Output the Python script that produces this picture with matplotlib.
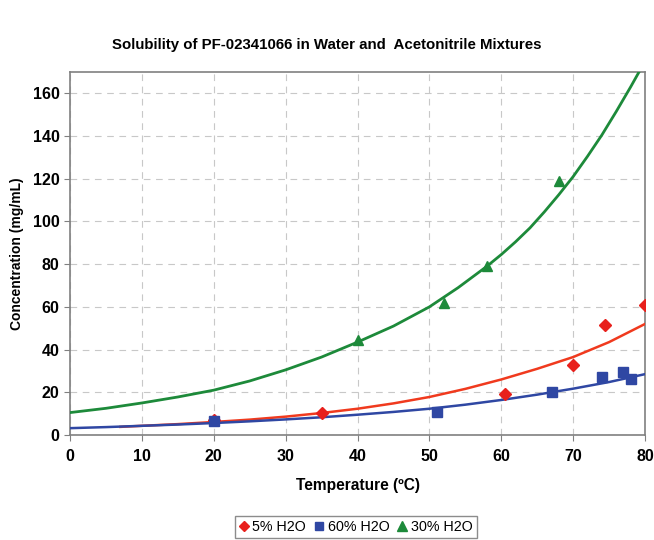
import numpy as np
import matplotlib
matplotlib.use("Agg")
import matplotlib.pyplot as plt

plt.rcParams['font.family'] = ['Liberation Sans', 'DejaVu Sans']

# measured points
t_5 = [20, 35, 60.5, 70, 74.5, 80]
c_5 = [7, 10.5, 19, 33, 51.5, 61]
t_60 = [20, 51, 67, 74, 77, 78]
c_60 = [6.5, 11, 20, 27, 29.5, 26]
t_30 = [40, 52, 58, 68]
c_30 = [44.5, 62, 79, 119]

# trendlines
fit_t_5 = [7, 10, 15, 20, 25, 30, 35, 40, 45, 50, 55, 60, 65, 70, 75, 80]
fit_c_5 = [3.8, 4.3, 5.1, 6.1, 7.2, 8.6, 10.3, 12.3, 14.8, 17.8, 21.6, 26.0,
           31.0, 36.5, 43.5, 52.0]
fit_t_60 = [0, 5, 10, 15, 20, 25, 30, 35, 40, 45, 50, 55, 60, 65, 70, 75, 80]
fit_c_60 = [3.2, 3.7, 4.3, 4.9, 5.6, 6.4, 7.3, 8.3, 9.5, 10.8, 12.3, 14.2,
            16.4, 18.9, 21.7, 24.8, 28.5]
fit_t_30 = [0, 5, 10, 15, 20, 25, 30, 35, 40, 45, 50, 52, 54, 56, 58, 60,
            62, 64, 66, 68, 70, 72, 74, 76, 78, 80]
fit_c_30 = [10.5, 12.5, 15, 17.8, 21, 25.3, 30.5, 36.5, 43.5, 51, 60, 64.5,
            69, 74, 79, 84.5, 90.5, 97, 104.5, 112.5, 121, 130.5, 140.5,
            151.5, 163, 175]

red_line = '#f03a1e'
red_mark = '#e8201c'
blue = '#2f47a3'
green = '#1d8a3a'

fig = plt.figure(figsize=(6.54, 5.40), dpi=100)
ax = fig.add_axes([70/654, 1 - 435/540, 575/654, (435 - 72)/540])

ax.plot(fit_t_30, fit_c_30, '-', color=green, lw=2, zorder=3)
ax.plot(fit_t_5, fit_c_5, '-', color=red_line, lw=1.8, zorder=3)
ax.plot(fit_t_60, fit_c_60, '-', color=blue, lw=1.8, zorder=3)

ax.plot(t_5, c_5, 'D', color=red_mark, ms=6, ls='none', label='5% H2O', zorder=4)
ax.plot(t_60, c_60, 's', color=blue, ms=6.5, ls='none', label='60% H2O', zorder=4)
ax.plot(t_30, c_30, '^', color=green, ms=7.5, ls='none', label='30% H2O', zorder=4)

ax.set_xlim(0, 80)
ax.set_ylim(0, 170)
ax.set_xticks(np.arange(0, 81, 10))
ax.set_yticks(np.arange(0, 161, 20))
ax.grid(True, ls=(0, (6, 5)), color='#c8c8c8', lw=0.8)
ax.set_axisbelow(True)
for s in ax.spines.values():
    s.set_color('#808080')
    s.set_linewidth(1.2)
ax.tick_params(direction='out', length=4, color='#808080', labelsize=11.5)
ax.tick_params(axis='x', pad=6)
for lb in ax.get_xticklabels() + ax.get_yticklabels():
    lb.set_fontweight('bold')

ax.set_xlabel('Temperature (ºC)', fontsize=11.2, fontweight='bold', labelpad=10)
ax.set_ylabel('Concentration (mg/mL)', fontsize=10, fontweight='bold', labelpad=6)
fig.text(0.5, 1 - 45/540, 'Solubility of PF-02341066 in Water and  Acetonitrile Mixtures',
         ha='center', va='center', fontsize=10.8, fontweight='bold')

leg = fig.legend(loc='center', bbox_to_anchor=(356/654, 1 - 527/540), ncol=3,
                 fontsize=10.3, frameon=True, fancybox=False, handlelength=0.6,
                 handletextpad=0.3, columnspacing=0.6, borderpad=0.3,
                 markerscale=0.9)
leg.get_frame().set_edgecolor('#707070')
leg.get_frame().set_linewidth(1.0)

fig.savefig('out.png', dpi=100)
